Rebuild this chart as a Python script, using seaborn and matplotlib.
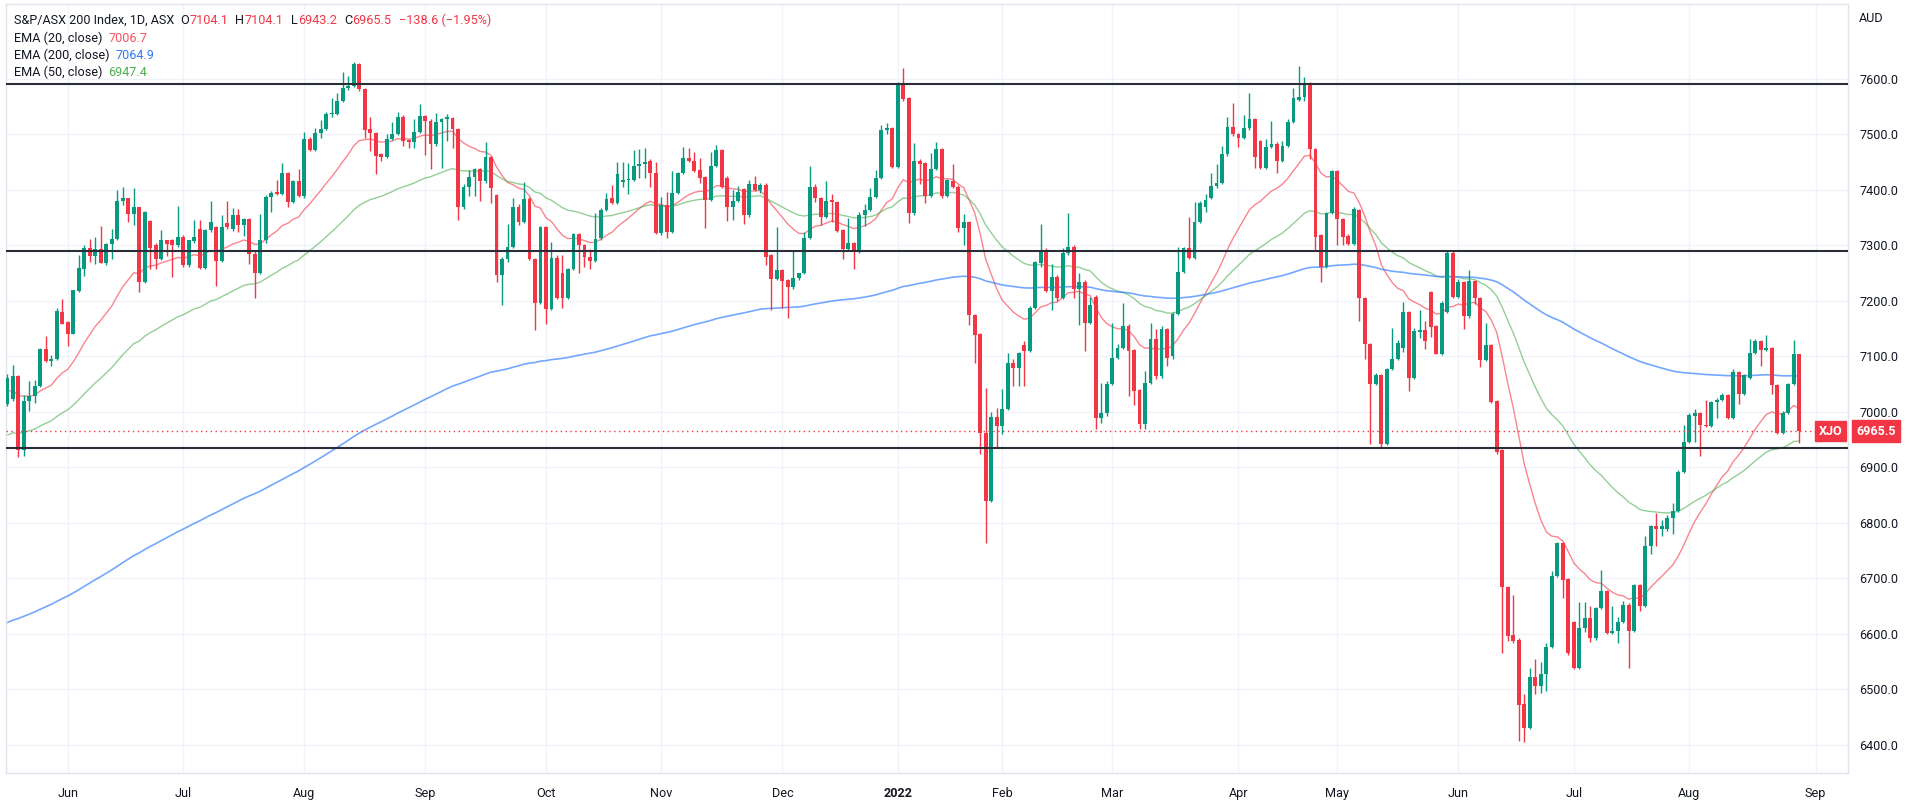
import matplotlib
matplotlib.use("Agg")
import matplotlib.pyplot as plt
import seaborn as sns
import pandas as pd
import numpy as np

# ASX trading days, May 17 2021 - Aug 29 2022
holidays = ["2021-06-14", "2021-12-27", "2021-12-28", "2022-01-03", "2022-01-26",
            "2022-04-15", "2022-04-18", "2022-04-25", "2022-06-13"]

opens = [
    7015, 7023, 7065, 6932, 7020, 7029, 7046, 7114, 7092, 7095,
    7180, 7162, 7141, 7218, 7258, 7296, 7281, 7294, 7269, 7302,
    7312, 7380, 7385, 7357, 7369, 7234, 7344, 7300, 7275, 7309,
    7309, 7300, 7315, 7264, 7308, 7330,
    7260, 7327, 7333, 7272, 7340, 7330, 7355, 7336, 7348, 7285,
    7251, 7309, 7388, 7396, 7392, 7430, 7379, 7417, 7389, 7491,
    7472, 7502, 7510, 7536, 7537, 7560, 7583, 7587, 7626, 7581,
    7510, 7502, 7464, 7460, 7492, 7501,
    7531, 7490, 7487, 7504, 7533, 7525, 7483, 7522, 7527, 7530,
    7510, 7370, 7406, 7424, 7437, 7416, 7460, 7390, 7247, 7275,
    7297, 7370, 7342, 7383, 7276, 7197, 7333, 7186, 7278, 7250,
    7206, 7257, 7320, 7300, 7279, 7272,
    7314, 7364, 7386, 7376, 7414, 7418, 7418, 7443, 7446, 7452,
    7430, 7322, 7372, 7325, 7394, 7430, 7458, 7452, 7436, 7423,
    7382, 7444, 7472, 7422, 7370, 7380, 7402, 7354, 7410, 7400,
    7409, 7282, 7240, 7256, 7238, 7226, 7242,
    7250, 7314, 7406, 7385, 7352, 7382, 7378, 7327, 7294, 7305,
    7289, 7355, 7364, 7388, 7421, 7508, 7511, 7442, 7592, 7565,
    7358, 7453, 7448, 7389, 7438, 7473, 7389, 7416, 7406, 7331,
    7342, 7175, 7140, 6962, 6840, 6991,
    6975, 7005, 7089, 7079, 7120, 7110, 7187, 7268, 7290, 7218,
    7244, 7206, 7286, 7298, 7222, 7234, 7161, 7208, 6989, 6998,
    7050, 7098, 7116, 7154, 7112, 7040, 6979, 7053, 7131, 7064,
    7150, 7100, 7176, 7252, 7296, 7278, 7342,
    7370, 7386, 7407, 7413, 7464, 7513, 7500, 7494, 7511, 7527,
    7488, 7440, 7477, 7483, 7452, 7479, 7522, 7562, 7568, 7592,
    7474, 7318, 7261, 7358, 7434, 7348, 7317, 7303, 7364, 7206,
    7122, 7051, 7067, 6943, 7077, 7095,
    7115, 7180, 7062, 7144, 7147, 7216, 7154, 7105, 7180, 7286,
    7207, 7234, 7173, 7236, 7205, 7093, 7120, 7019, 6931, 6684,
    6598, 6590, 6473, 6430, 6522, 6506, 6528, 6576, 6704, 6763,
    6699, 6622, 6538, 6611, 6628, 6592,
    6646, 6678, 6602, 6606, 6622, 6652, 6605, 6688, 6650, 6758,
    6794, 6790, 6790, 6809, 6822, 6892, 6946, 6992, 6998, 6976,
    6974, 7018, 7022, 7031, 6990, 7072, 7032, 7062, 7106, 7128,
    7112, 7115, 7049, 6962, 6998, 7050, 7104.1,
]
highs = [
    7068, 7084, 7066, 7030, 7056, 7057, 7116, 7137, 7102, 7187,
    7203, 7163, 7220, 7282, 7300, 7311, 7316, 7335, 7305, 7330,
    7399, 7406, 7386, 7403, 7370, 7362, 7346, 7305, 7327, 7310,
    7312, 7371, 7318, 7310, 7345, 7346,
    7330, 7380, 7335, 7354, 7380, 7368, 7365, 7350, 7350, 7290,
    7357, 7390, 7398, 7418, 7448, 7432, 7418, 7437, 7505, 7495,
    7511, 7526, 7540, 7565, 7575, 7613, 7605, 7630, 7628, 7583,
    7532, 7504, 7466, 7500, 7523, 7541,
    7535, 7492, 7528, 7555, 7535, 7527, 7538, 7530, 7537, 7532,
    7512, 7410, 7436, 7440, 7440, 7486, 7462, 7392, 7280, 7338,
    7386, 7375, 7414, 7388, 7278, 7335, 7335, 7306, 7282, 7282,
    7260, 7322, 7322, 7302, 7294, 7358,
    7368, 7394, 7408, 7451, 7450, 7448, 7472, 7474, 7475, 7455,
    7450, 7388, 7397, 7434, 7432, 7478, 7476, 7469, 7457, 7425,
    7469, 7481, 7474, 7425, 7400, 7407, 7404, 7418, 7426, 7412,
    7412, 7284, 7334, 7258, 7240, 7290, 7250,
    7325, 7443, 7410, 7388, 7417, 7392, 7380, 7330, 7350, 7307,
    7360, 7375, 7404, 7436, 7517, 7520, 7514, 7594, 7619, 7567,
    7485, 7455, 7450, 7467, 7486, 7476, 7420, 7446, 7408, 7356,
    7344, 7177, 7142, 7044, 7000, 7008,
    7042, 7107, 7095, 7108, 7128, 7190, 7272, 7338, 7296, 7266,
    7246, 7295, 7358, 7300, 7250, 7238, 7208, 7210, 7052, 7055,
    7161, 7122, 7197, 7158, 7114, 7042, 7073, 7161, 7150, 7155,
    7152, 7180, 7298, 7298, 7352, 7379, 7380,
    7392, 7430, 7446, 7480, 7532, 7556, 7502, 7535, 7574, 7530,
    7490, 7492, 7525, 7486, 7488, 7528, 7583, 7623, 7604, 7594,
    7476, 7320, 7360, 7436, 7436, 7350, 7320, 7369, 7366, 7208,
    7124, 7070, 7069, 7079, 7151, 7130,
    7198, 7182, 7152, 7184, 7164, 7218, 7156, 7200, 7290, 7290,
    7240, 7236, 7255, 7238, 7207, 7161, 7122, 7021, 6933, 6686,
    6670, 6592, 6492, 6538, 6555, 6549, 6584, 6714, 6765, 6765,
    6701, 6624, 6658, 6658, 6650, 6648,
    6716, 6680, 6650, 6630, 6659, 6655, 6690, 6690, 6776, 6796,
    6818, 6806, 6815, 6836, 6895, 6976, 6998, 7006, 7000, 7022,
    7020, 7025, 7034, 7033, 7078, 7074, 7068, 7132, 7132, 7130,
    7138, 7117, 7051, 7002, 7052, 7130, 7104.1,
]
lows = [
    7010, 7020, 6918, 6920, 7001, 7016, 7045, 7090, 7083, 7094,
    7158, 7119, 7140, 7217, 7245, 7270, 7267, 7268, 7265, 7275,
    7310, 7373, 7343, 7336, 7217, 7232, 7257, 7257, 7273, 7281,
    7243, 7298, 7262, 7262, 7305, 7258,
    7257, 7325, 7227, 7270, 7330, 7326, 7324, 7317, 7267, 7206,
    7249, 7305, 7360, 7390, 7390, 7369, 7377, 7387, 7386, 7470,
    7470, 7494, 7508, 7532, 7535, 7558, 7580, 7585, 7578, 7494,
    7470, 7429, 7453, 7458, 7490, 7499,
    7479, 7476, 7476, 7502, 7463, 7438, 7480, 7440, 7488, 7476,
    7345, 7365, 7389, 7389, 7380, 7413, 7377, 7234, 7193, 7270,
    7295, 7336, 7340, 7273, 7148, 7195, 7159, 7184, 7203, 7187,
    7204, 7255, 7251, 7261, 7257, 7270,
    7310, 7362, 7374, 7374, 7406, 7392, 7416, 7421, 7421, 7406,
    7320, 7318, 7313, 7322, 7392, 7428, 7450, 7432, 7412, 7331,
    7380, 7442, 7404, 7344, 7345, 7378, 7338, 7352, 7398, 7395,
    7264, 7184, 7238, 7187, 7170, 7222, 7238,
    7248, 7312, 7379, 7337, 7350, 7343, 7324, 7276, 7292, 7258,
    7287, 7335, 7362, 7386, 7419, 7500, 7440, 7440, 7560, 7341,
    7355, 7410, 7376, 7387, 7436, 7386, 7387, 7404, 7325, 7300,
    7156, 7089, 6924, 6764, 6838, 6936,
    6960, 7003, 7047, 7047, 7047, 7108, 7185, 7262, 7216, 7184,
    7199, 7204, 7282, 7205, 7157, 7110, 7158, 6970, 6980, 6993,
    7048, 7096, 7114, 7028, 7012, 6970, 6970, 7050, 7060, 7062,
    7082, 7095, 7174, 7250, 7276, 7276, 7340,
    7360, 7384, 7404, 7410, 7462, 7498, 7477, 7492, 7508, 7440,
    7437, 7438, 7475, 7431, 7450, 7477, 7520, 7560, 7561, 7455,
    7291, 7235, 7259, 7356, 7300, 7300, 7300, 7301, 7163, 7095,
    6943, 7049, 6937, 6941, 7075, 7093,
    7108, 7037, 7060, 7133, 7113, 7135, 7104, 7103, 7178, 7205,
    7205, 7150, 7170, 7195, 7081, 7091, 7016, 6925, 6566, 6588,
    6584, 6408, 6405, 6428, 6492, 6493, 6498, 6574, 6702, 6665,
    6563, 6536, 6536, 6604, 6586, 6590,
    6645, 6600, 6600, 6584, 6620, 6538, 6603, 6641, 6648, 6744,
    6758, 6776, 6785, 6780, 6820, 6890, 6944, 6946, 6920, 6972,
    6972, 6989, 7020, 6988, 6988, 7014, 7030, 7060, 7104, 7082,
    7110, 7032, 6960, 6960, 6996, 7048, 6943.2,
]
closes = [
    7062, 7065, 6932, 7020, 7029, 7047, 7114, 7092, 7096, 7181,
    7159, 7141, 7219, 7260, 7296, 7281, 7294, 7269, 7302, 7312,
    7380, 7385, 7357, 7369, 7234, 7360, 7296, 7275, 7309, 7303,
    7300, 7315, 7264, 7309, 7315, 7260,
    7327, 7342, 7272, 7333, 7333, 7355, 7336, 7348, 7285, 7251,
    7309, 7388, 7395, 7392, 7430, 7379, 7417, 7389, 7491, 7472,
    7502, 7510, 7536, 7538, 7561, 7583, 7587, 7626, 7581, 7508,
    7502, 7462, 7460, 7492, 7501, 7532,
    7489, 7487, 7504, 7533, 7525, 7483, 7522, 7528, 7531, 7510,
    7370, 7406, 7424, 7437, 7416, 7460, 7403, 7247, 7275, 7297,
    7370, 7342, 7383, 7275, 7197, 7333, 7186, 7278, 7205, 7206,
    7257, 7320, 7300, 7279, 7272, 7311,
    7364, 7384, 7376, 7428, 7418, 7419, 7444, 7446, 7450, 7430,
    7322, 7373, 7325, 7394, 7430, 7458, 7452, 7434, 7422, 7382,
    7444, 7472, 7406, 7370, 7380, 7397, 7354, 7410, 7400, 7409,
    7280, 7240, 7256, 7236, 7226, 7242, 7250,
    7314, 7406, 7385, 7352, 7380, 7378, 7326, 7294, 7305, 7289,
    7355, 7364, 7388, 7421, 7508, 7511, 7442, 7592, 7563, 7358,
    7453, 7446, 7389, 7438, 7473, 7389, 7418, 7406, 7331, 7342,
    7175, 7139, 6962, 6840, 6991, 6974,
    7005, 7089, 7079, 7106, 7110, 7187, 7270, 7290, 7218, 7244,
    7206, 7286, 7298, 7222, 7234, 7161, 7192, 6989, 6998, 7050,
    7098, 7116, 7154, 7110, 7038, 6979, 7053, 7131, 7064, 7150,
    7097, 7176, 7252, 7296, 7278, 7342, 7376,
    7381, 7407, 7413, 7464, 7513, 7500, 7494, 7511, 7527, 7460,
    7440, 7477, 7483, 7452, 7479, 7522, 7565, 7567, 7592, 7473,
    7315, 7261, 7358, 7434, 7347, 7315, 7303, 7366, 7205, 7122,
    7051, 7067, 6943, 7077, 7095, 7125,
    7180, 7062, 7145, 7147, 7127, 7153, 7105, 7197, 7286, 7207,
    7235, 7173, 7236, 7205, 7093, 7120, 7018, 6928, 6684, 6597,
    6588, 6472, 6430, 6522, 6506, 6528, 6576, 6704, 6763, 6698,
    6565, 6538, 6611, 6628, 6592, 6646,
    6678, 6602, 6606, 6622, 6653, 6605, 6688, 6650, 6758, 6794,
    6790, 6794, 6809, 6822, 6892, 6946, 6994, 6998, 6976, 6974,
    7018, 7022, 7031, 6990, 7072, 7032, 7066, 7106, 7128, 7112,
    7116, 7049, 6962, 6998, 7050, 7104.1, 6965.5,
]

# EMA values carried in from before the visible window
ema_seeds = {20: 7034, 50: 6954, 200: 6616}
levels = [7590, 7290, 6935]
last_price = 6965.5
y_ticks = list(range(6400, 7700, 100))

W, H = 1910, 810
GREEN, RED = "#089981", "#f23645"
TXT = "#131722"
FS = 9.1

sns.set_style("white")
plt.rcParams["font.family"] = ["Roboto", "DejaVu Sans"]

n = len(closes)
dates = pd.bdate_range("2021-05-17", periods=n + 3, freq="C", holidays=holidays)
df = pd.DataFrame({"open": opens, "high": highs, "low": lows, "close": closes})
df["x"] = np.arange(n)


def ema(values, span, seed):
    s = pd.Series([seed] + list(values), dtype=float)
    return s.ewm(span=span, adjust=False).mean().iloc[1:].to_numpy()


for span, seed in ema_seeds.items():
    df[f"ema{span}"] = ema(df["close"], span, seed)

fig = plt.figure(figsize=(W / 100, H / 100), dpi=100)
ax = fig.add_axes([6 / W, (H - 773) / H, (1848 - 6) / W, (773 - 4) / H])
ax.set_xlim(-0.25, 334.9)
ax.set_ylim(6349.5, 7735)

# grid
month_idx = [i for i in range(1, len(dates)) if dates[i].month != dates[i - 1].month]
for i in month_idx:
    ax.axvline(i, color="#f0f3fa", lw=1, zorder=0)
for v in y_ticks:
    ax.axhline(v, color="#f0f3fa", lw=1, zorder=0)

# candles
up = df["close"] >= df["open"]
cols = np.where(up, GREEN, RED)
ax.vlines(df["x"], df["low"], df["high"], colors=cols, lw=1, zorder=3)
body = np.maximum((df["close"] - df["open"]).abs(), 1.2)
ax.bar(df["x"], body, bottom=np.minimum(df["open"], df["close"]), width=0.7,
       color=cols, linewidth=0, zorder=4)

# EMAs
sns.lineplot(data=df, x="x", y="ema20", ax=ax, color="#f7525f", lw=1.0, alpha=0.7, zorder=2)
sns.lineplot(data=df, x="x", y="ema50", ax=ax, color="#4caf50", lw=1.0, alpha=0.6, zorder=2)
sns.lineplot(data=df, x="x", y="ema200", ax=ax, color="#2979ff", lw=1.2, alpha=0.65, zorder=2)

# support / resistance levels
for lv in levels:
    ax.axhline(lv, color="#2a2e39", lw=1.5, zorder=5)
ax.axhline(last_price, color=RED, lw=1, ls=(0, (1, 2.5)), zorder=5)

# axes
ax.set_xlabel("")
ax.set_ylabel("")
ax.set_xticks(month_idx)
ax.set_xticklabels(["2022" if dates[i].month == 1 else dates[i].strftime("%b") for i in month_idx])
for lab, i in zip(ax.get_xticklabels(), month_idx):
    if dates[i].month == 1:
        lab.set_fontweight("bold")
ax.set_yticks(y_ticks)
ax.set_yticklabels([f"{v:.1f}" for v in y_ticks])
ax.yaxis.tick_right()
ax.tick_params(axis="y", length=0, pad=8, labelsize=FS, labelcolor=TXT)
ax.tick_params(axis="x", length=0, pad=10, labelsize=FS, labelcolor=TXT)
for sp in ax.spines.values():
    sp.set_color("#e0e3eb")
    sp.set_linewidth(1)

# last price tags
ax.annotate("XJO", xy=(0.997, last_price), xycoords=("axes fraction", "data"),
            ha="right", va="center", color="white", fontsize=FS, fontweight="bold",
            bbox=dict(boxstyle="square,pad=0.3", fc=RED, ec=RED), zorder=6)
ax.annotate(f"{last_price:.1f}", xy=(1.0, last_price), xycoords=("axes fraction", "data"),
            xytext=(6, 0), textcoords="offset points",
            ha="left", va="center", color="white", fontsize=FS, fontweight="bold",
            bbox=dict(boxstyle="square,pad=0.35", fc=RED, ec=RED),
            annotation_clip=False, zorder=6)
fig.text(1859 / W, 1 - 19 / H, "AUD", color=TXT, fontsize=FS, va="center", ha="left")

# header legend
renderer = fig.canvas.get_renderer()


def text_row(x_px, y_px, parts, size=FS):
    x = x_px
    for s, col, gap in parts:
        t = fig.text(x / W, 1 - y_px / H, s, color=col, fontsize=size,
                     va="baseline", ha="left")
        x = t.get_window_extent(renderer).x1 + gap


text_row(14, 24, [("S&P/ASX 200 Index, 1D, ASX", TXT, 6),
                  ("O", TXT, 0.5), ("7104.1", RED, 7),
                  ("H", TXT, 0.5), ("7104.1", RED, 7),
                  ("L", TXT, 0.5), ("6943.2", RED, 7),
                  ("C", TXT, 0.5), ("6965.5", RED, 7),
                  ("\u2212138.6 (\u22121.95%)", RED, 0)])
text_row(14, 42, [("EMA (20, close)", TXT, 6), ("7006.7", "#f7525f", 0)])
text_row(14, 59, [("EMA (200, close)", TXT, 6), ("7064.9", "#3179f5", 0)])
text_row(14, 76, [("EMA (50, close)", TXT, 6), ("6947.4", "#4caf50", 0)])

fig.savefig("out.png", dpi=100)
